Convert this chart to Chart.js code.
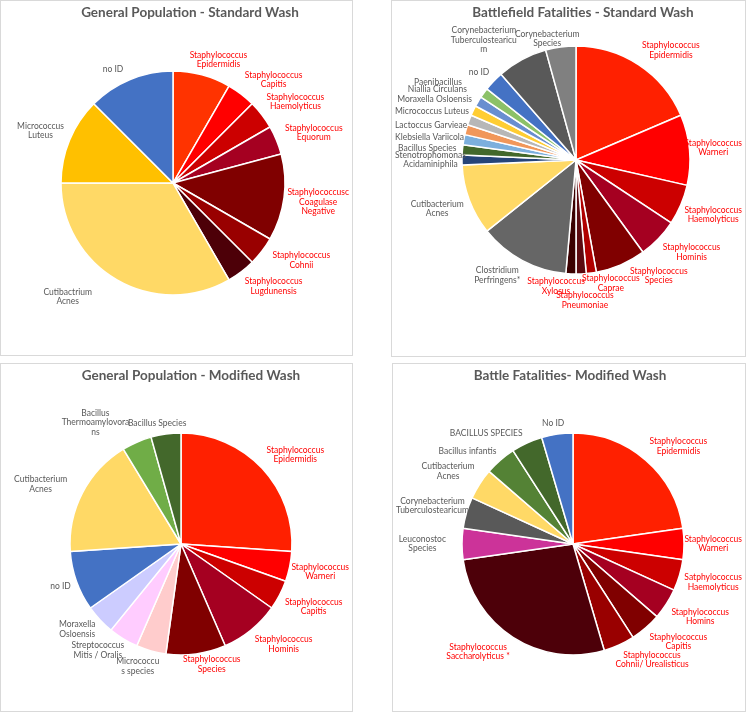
<!DOCTYPE html>
<html>
<head>
<meta charset="utf-8">
<script src="https://cdn.jsdelivr.net/npm/chart.js@4.4.1/dist/chart.umd.min.js"></script>
<style>
  html, body { margin: 0; padding: 0; background: #fff; }
  body { position: relative; width: 746px; height: 713px; overflow: hidden; }
  .panel { position: absolute; border: 1px solid #D9D9D9; box-sizing: border-box; background: #fff; }
  .panel canvas { display: block; }
</style>
</head>
<body>
<script>
const RED = "#FF0000";
const GREY = "#595959";

// General Population - Standard Wash
const gpStdLabels = [
  ["Staphylococcus", "Epidermidis"], ["Staphylococcus", "Capitis"], ["Staphylococcus", "Haemolyticus"],
  ["Staphylococcus", "Equorum"], ["Staphylococcusc", "Coagulase", "Negative"], ["Staphylococcus", "Cohnii"],
  ["Staphylococcus", "Lugdunensis"], ["Cutibactrium", "Acnes"], ["Micrococcus", "Luteus"], "no ID",
];
const gpStdValues = [2, 1, 1, 1, 3, 1, 1, 8, 3, 3];
const gpStdColors = ["#FF3300", "#FF0000", "#CC0000", "#A50021", "#800000", "#990000", "#4D0008", "#FFD966", "#FFC000", "#4472C4"];

// Battlefield Fatalities - Standard Wash
const bfStdLabels = [
  ["Staphylococcus", "Epidermidis"], ["Staphylococcus", "Warneri"], ["Staphylococcus", "Haemolyticus"],
  ["Staphylococcus", "Hominis"], ["Staphylococcus", "Species"], ["Staphylococcus", "Caprae"],
  ["Staphylococcus", "Pneumoniae"], ["Staphylococcus", "Xylosus"], ["Clostridium", "Perfringens*"],
  ["Cutibacterium", "Acnes"], ["Stenotrophomonas", "Acidaminiphila"], "Bacillus Species", "Klebsiella Variicola",
  "Lactoccus Garvieae", "Micrococcus Luteus", "Moraxella Osloensis", "Niallia Circulans", "Paenibacillus", "no ID",
  ["Corynebacterium", "Tuberculostearicu", "m"], ["Corynebacterium", "Species"],
];
const bfStdValues = [13, 7, 4, 4, 5, 1, 1, 1, 9, 7, 1, 1, 1, 1, 1, 1, 1, 1, 2, 5, 3];
const bfStdColors = [
  "#FF2000", "#FF0000", "#CC0000", "#A50021", "#800000", "#B00000", "#5C0A10", "#3B0000", "#666666", "#FFD966",
  "#264478", "#43682B", "#7CAFDD", "#F1975A", "#B7B7B7", "#FFCD33", "#698ED0", "#8CC168", "#4472C4", "#595959", "#808080",
];

// General Population - Modified Wash
const gpModLabels = [
  ["Staphylococcus", "Epidermidis"], ["Staphylococcus", "Warneri"], ["Staphylococcus", "Capitis"],
  ["Staphylococcus", "Hominis"], ["Staphylococcus", "Species"], ["Micrococcu", "s species"],
  ["Streptococcus", "Mitis / Oralis"], ["Moraxella", "Osloensis"], "no ID", ["Cutibacterium", "Acnes"],
  ["Bacillus", "Thermoamylovora", "ns"], "Bacillus Species",
];
const gpModValues = [6, 1, 1, 2, 2, 1, 1, 1, 2, 4, 1, 1];
const gpModColors = ["#FF2000", "#FF0000", "#CC0000", "#A50021", "#800000", "#FFCCCC", "#FFCCFF", "#CCCCFF", "#4472C4", "#FFD966", "#70AD47", "#43682B"];

// Battle Fatalities- Modified Wash
const bfModLabels = [
  ["Staphylococcus", "Epidermidis"], ["Staphylococcus", "Warneri"], ["Satphylococcus", "Haemolyticus"],
  ["Staphylococcus", "Homins"], ["Staphylococcus", "Capitis"], ["Staphylococcus", "Cohnii/ Urealisticus"],
  ["Staphylococcus", "Saccharolyticus *"], ["Leuconostoc", "Species"], ["Corynebacterium", "Tuberculostearicum"],
  ["Cutibacterium", "Acnes"], "Bacillus infantis", "BACILLUS SPECIES", "No ID",
];
const bfModValues = [5, 1, 1, 1, 1, 1, 6, 1, 1, 1, 1, 1, 1];
const bfModColors = ["#FF2000", "#FF0000", "#CC0000", "#A50021", "#800000", "#990000", "#4D0009", "#CC3399", "#595959", "#FFD966", "#548235", "#43682B", "#4472C4"];

// panel layout: border box, pie centre/radius in page pixels, label nudges by slice index
const panels = [
  { box: [0, 0, 353, 356], center: [173, 183], radius: 112, title: "General Population - Standard Wash", titleAt: [190, 13],
    labels: gpStdLabels, values: gpStdValues, colors: gpStdColors,
    nudges: { 3: [3, 2], 5: [6, -4], 7: [-22, 2], 9: [-7, 0] } },
  { box: [391, 0, 355, 357], center: [576, 160], radius: 114, title: "Battlefield Fatalities - Standard Wash", titleAt: [583, 13],
    labels: bfStdLabels, values: bfStdValues, colors: bfStdColors,
    nudges: { 4: [13, -4], 5: [11, -5], 6: [1, 11], 7: [-12, -3], 14: [0, -3], 15: [4, -5], 16: [-6, -4], 17: [-17, -2], 19: [-4, 0], 20: [-4, 7] } },
  { box: [0, 363, 353, 349], center: [181, 544], radius: 111, title: "General Population - Modified Wash", titleAt: [191, 376],
    labels: gpModLabels, values: gpModValues, colors: gpModColors,
    nudges: { 4: [7, -5], 6: [4, -3], 7: [0, -4], 9: [-10, 3], 10: [-12, 0] } },
  { box: [392, 363, 354, 349], center: [573, 544], radius: 111, title: "Battle Fatalities- Modified Wash", titleAt: [570, 376],
    labels: bfModLabels, values: bfModValues, colors: bfModColors,
    nudges: { 7: [-10, 0], 11: [-8, 0] } },
];

const LABEL_FONT = "8.5px Lato";
const LINE = 9.5;
const GAP = 6;

// Excel-like outside-end labels: the corner of the label facing the pie sits just outside the slice
const sliceLabels = {
  id: "sliceLabels",
  afterDatasetsDraw(chart, args, opts) {
    const { ctx, width } = chart;
    const meta = chart.getDatasetMeta(0);
    ctx.save();
    ctx.font = LABEL_FONT;
    ctx.textAlign = "center";
    ctx.textBaseline = "middle";
    meta.data.forEach((arc, i) => {
      const { x, y, startAngle, endAngle, outerRadius } = arc.getProps(["x", "y", "startAngle", "endAngle", "outerRadius"], true);
      const mid = (startAngle + endAngle) / 2;
      const cx = Math.cos(mid), sy = Math.sin(mid);
      const lines = [].concat(chart.data.labels[i]);
      const w = Math.max(...lines.map((t) => ctx.measureText(t).width));
      const h = lines.length * LINE;
      const ax = x + cx * (outerRadius + GAP);
      const ay = y + sy * (outerRadius + GAP);
      const kx = Math.max(-1, Math.min(1, cx * 2));
      const ky = Math.max(-1, Math.min(1, sy * 2));
      const n = opts.nudges[i] || [0, 0];
      let lx = ax + kx * w / 2 + n[0];
      const ly = ay + ky * h / 2 + n[1];
      lx = Math.max(w / 2 + 3, Math.min(width - w / 2 - 3, lx));
      ctx.fillStyle = /phylococcus/.test(lines[0]) ? RED : GREY;
      lines.forEach((t, k) => ctx.fillText(t, lx, ly - h / 2 + LINE * (k + 0.5)));
    });
    ctx.restore();
  },
};

const panelTitle = {
  id: "panelTitle",
  afterDraw(chart, args, opts) {
    const { ctx } = chart;
    ctx.save();
    ctx.font = "bold 13.5px Lato";
    ctx.fillStyle = GREY;
    ctx.textAlign = "center";
    ctx.textBaseline = "middle";
    ctx.fillText(opts.text, opts.x, opts.y);
    ctx.restore();
  },
};

panels.forEach((p) => {
  const [bx, by, bw, bh] = p.box;
  const div = document.createElement("div");
  div.className = "panel";
  Object.assign(div.style, { left: bx + "px", top: by + "px", width: bw + "px", height: bh + "px" });
  const canvas = document.createElement("canvas");
  const cw = bw - 2, ch = bh - 2;
  canvas.width = cw;
  canvas.height = ch;
  div.appendChild(canvas);
  document.body.appendChild(div);

  // pie centre relative to the canvas
  const px = p.center[0] - (bx + 1);
  const py = p.center[1] - (by + 1);
  const r = p.radius;

  new Chart(canvas.getContext("2d"), {
    type: "pie",
    data: {
      labels: p.labels,
      datasets: [{
        data: p.values,
        backgroundColor: p.colors,
        borderColor: "#FFFFFF",
        borderWidth: 1.5,
        radius: r,
      }],
    },
    options: {
      responsive: false,
      animation: false,
      events: [],
      layout: {
        padding: { left: px - r - 2, right: cw - (px + r + 2), top: py - r - 2, bottom: ch - (py + r + 2) },
      },
      plugins: {
        legend: { display: false },
        tooltip: { enabled: false },
        sliceLabels: { nudges: p.nudges },
        panelTitle: { text: p.title, x: p.titleAt[0] - (bx + 1), y: p.titleAt[1] - (by + 1) },
      },
    },
    plugins: [sliceLabels, panelTitle],
  });
});
</script>
</body>
</html>
